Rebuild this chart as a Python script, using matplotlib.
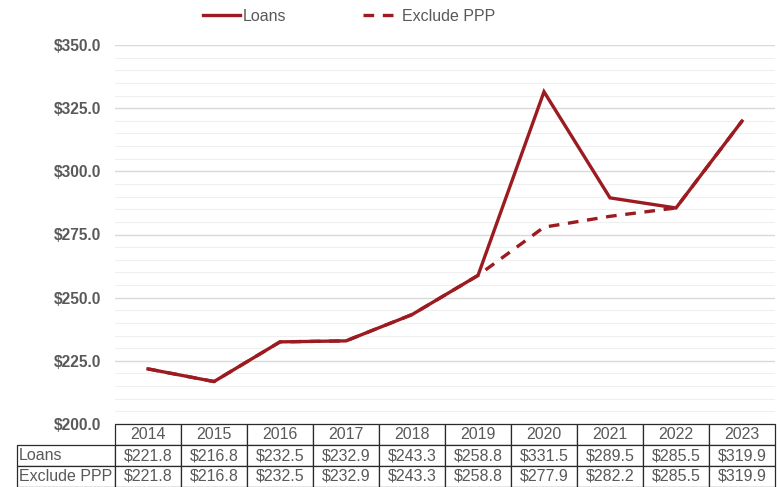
import numpy as np
import matplotlib.pyplot as plt
from matplotlib.ticker import MultipleLocator, FuncFormatter

# chart data
years = ['2014', '2015', '2016', '2017', '2018', '2019', '2020', '2021', '2022', '2023']
loans = [221.8, 216.8, 232.5, 232.9, 243.3, 258.8, 331.5, 289.5, 285.5, 319.9]
exclude_ppp = [221.8, 216.8, 232.5, 232.9, 243.3, 258.8, 277.9, 282.2, 285.5, 319.9]
series_names = ['Loans', 'Exclude PPP']

plt.rcParams['font.family'] = ['Liberation Sans', 'DejaVu Sans']
red = '#9B1B20'
gray = '#595959'

fig = plt.figure(figsize=(7.81, 4.87), dpi=100)
ax = fig.add_axes([115 / 781, 1 - 424 / 487, 660 / 781, 379 / 487])

x = np.arange(len(years))
l2, = ax.plot(x, exclude_ppp, color=red, lw=2.4, ls=(0, (3.2, 2.6)), zorder=3)
l1, = ax.plot(x, loans, color=red, lw=2.4, zorder=4, solid_joinstyle='miter')

ax.set_xlim(-0.5, len(years) - 0.5)
ax.set_ylim(200, 350)
ax.yaxis.set_major_locator(MultipleLocator(25))
ax.yaxis.set_minor_locator(MultipleLocator(5))
ax.yaxis.set_major_formatter(FuncFormatter(lambda v, p: f'${v:.1f}'))
ax.grid(axis='y', which='major', color='#d9d9d9', lw=1.0)
ax.grid(axis='y', which='minor', color='#efefef', lw=0.8)
ax.set_axisbelow(True)
for s in ax.spines.values():
    s.set_visible(False)
ax.tick_params(axis='y', which='both', length=0, pad=10, labelsize=11.2, labelcolor=gray)
for t in ax.get_yticklabels():
    t.set_fontweight('bold')
ax.set_xticks([])

# data table under the plot (first column holds the row labels)
cell_text = [[series_names[0]] + [f'${v:.1f}' for v in loans],
             [series_names[1]] + [f'${v:.1f}' for v in exclude_ppp]]
lab_w = 98 / 660
tbl = ax.table(cellText=cell_text, colLabels=[''] + years,
               colWidths=[lab_w] + [0.1] * len(years),
               cellLoc='center', colLoc='center',
               bbox=[-lab_w, -63 / 379, 1 + lab_w, 63 / 379])
tbl.auto_set_font_size(False)
tbl.set_fontsize(11.5)
for (r, c), cell in tbl.get_celld().items():
    cell.set_edgecolor('#2a2a2a')
    cell.set_linewidth(0.9)
    cell.get_text().set_color(gray)
    cell.PAD = 0.02
    if c == 0:
        cell.get_text().set_horizontalalignment('left')
        cell._loc = 'left'
    if r == 0 and c == 0:
        cell.visible_edges = ''

leg = ax.legend([l1, l2], series_names, loc='center', bbox_to_anchor=(0.355, 1.0765), ncol=2,
                frameon=False, fontsize=11.5, handlelength=2.3, handletextpad=0.15,
                columnspacing=4.8, borderaxespad=0)
for t in leg.get_texts():
    t.set_color(gray)

fig.savefig('out.png', dpi=100)
